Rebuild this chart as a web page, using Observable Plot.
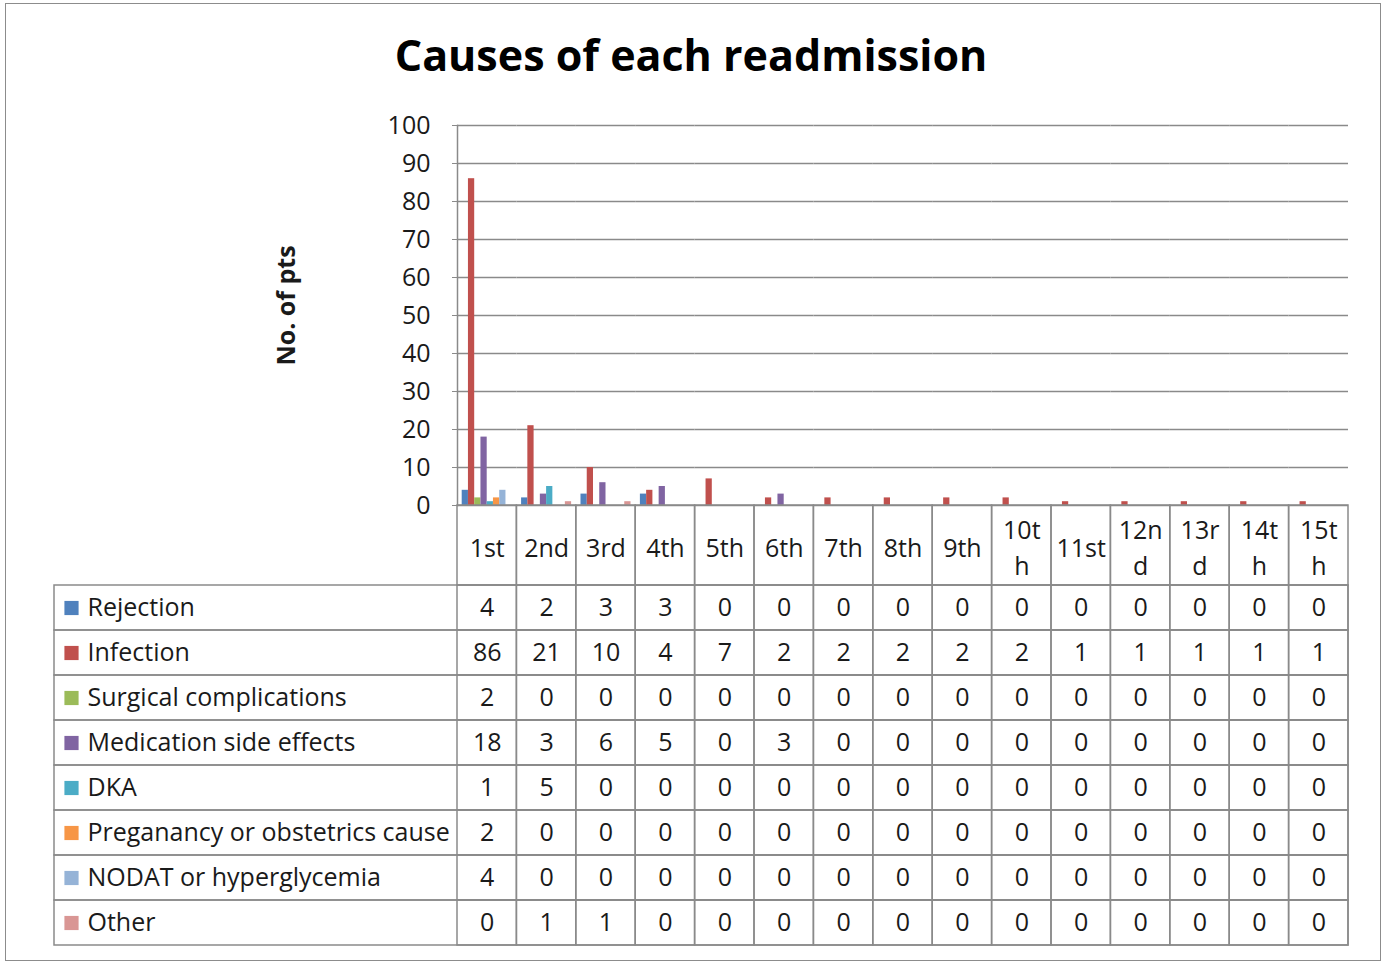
<!DOCTYPE html>
<html>
<head>
<meta charset="utf-8">
<script src="https://cdn.jsdelivr.net/npm/d3@7"></script>
<script src="https://cdn.jsdelivr.net/npm/@observablehq/plot@0.6"></script>
<style>
  html, body { margin: 0; padding: 0; background: #fff; }
  #chart { position: relative; width: 1382px; height: 963px; font-family: "Open Sans", "DejaVu Sans", sans-serif; }
  #border { position: absolute; left: 5px; top: 3px; width: 1374px; height: 956px; border: 1px solid #8c8c8c; }
  #title { position: absolute; left: 0; width: 1382px; top: 25px; text-align: center; font-weight: bold; font-size: 43px; color: #000; }
  .layer { position: absolute; left: 0; }
  .layer svg { overflow: visible; }
  [aria-label="y-axis label"] { font-weight: bold; translate: 0 -10px; }
</style>
</head>
<body>
<div id="chart">
  <div id="border"></div>
  <div id="title">Causes of each readmission</div>
  <div id="bars" class="layer" style="top:105px"></div>
  <div id="header" class="layer" style="top:505px"></div>
  <div id="body" class="layer" style="top:585px"></div>
</div>
<script>
const categories = ["1st","2nd","3rd","4th","5th","6th","7th","8th","9th","10th","11st","12nd","13rd","14th","15th"];
const headerLabels = ["1st","2nd","3rd","4th","5th","6th","7th","8th","9th","10t\nh","11st","12n\nd","13r\nd","14t\nh","15t\nh"];
const series = ["Rejection","Infection","Surgical complications","Medication side effects","DKA","Preganancy or obstetrics cause","NODAT or hyperglycemia","Other"];
const rejection  = [4,2,3,3,0,0,0,0,0,0,0,0,0,0,0];
const infection  = [86,21,10,4,7,2,2,2,2,2,1,1,1,1,1];
const surgical   = [2,0,0,0,0,0,0,0,0,0,0,0,0,0,0];
const medication = [18,3,6,5,0,3,0,0,0,0,0,0,0,0,0];
const dka        = [1,5,0,0,0,0,0,0,0,0,0,0,0,0,0];
const pregnancy  = [2,0,0,0,0,0,0,0,0,0,0,0,0,0,0];
const nodat      = [4,0,0,0,0,0,0,0,0,0,0,0,0,0,0];
const other      = [0,1,1,0,0,0,0,0,0,0,0,0,0,0,0];
const colors = ["#4F81BD","#C0504D","#9BBB59","#8064A2","#4BACC6","#F79646","#95B3D7","#D99694"];
const yTicks = [0,10,20,30,40,50,60,70,80,90,100];

const values = [rejection, infection, surgical, medication, dka, pregnancy, nodat, other];
const data = [];
series.forEach((s, i) => categories.forEach((c, j) => data.push({series: s, category: c, value: values[i][j]})));
const headerRows = categories.map((c, j) => ({category: c, label: headerLabels[j]}));

const gray = "#8a8a8a";
const ink = "#1a1a1a";
const font = "'Open Sans', 'DejaVu Sans', sans-serif";
const W = 1382, ML = 457, MR = 34;
const FS = 25;

const bars = Plot.plot({
  width: W, height: 400, marginTop: 20, marginBottom: 0, marginLeft: ML, marginRight: MR,
  style: {fontFamily: font, fontSize: FS + "px", color: ink, background: "transparent"},
  fx: {domain: categories, padding: 0, round: false, axis: null},
  x: {domain: series, paddingInner: 0, paddingOuter: 0.75, round: false, axis: null},
  y: {domain: [0, 100]},
  color: {domain: series, range: colors},
  marks: [
    Plot.gridY(yTicks, {stroke: gray, strokeOpacity: 1, strokeWidth: 1.5}),
    Plot.axisY(yTicks, {tickSize: 5, tickPadding: 22, fontSize: 25, stroke: gray, fill: ink,
      label: "No. of pts", labelAnchor: "center", labelOffset: 180, labelArrow: "none"}),
    Plot.frame({anchor: "left", facetAnchor: "left", stroke: gray, strokeWidth: 1.5}),
    Plot.barY(data, {fx: "category", x: "series", y: "value", fill: "series"})
  ]
});
document.getElementById("bars").append(bars);

const header = Plot.plot({
  width: W, height: 80, margin: 0, marginLeft: ML, marginRight: MR,
  style: {fontFamily: font, fontSize: FS + "px", color: ink, background: "transparent"},
  x: {domain: categories, padding: 0, round: false, axis: null},
  marks: [
    Plot.cell(headerRows, {x: "category", stroke: gray, strokeWidth: 1.5, fill: "none"}),
    Plot.text(headerRows, {x: "category", text: "label", fontSize: FS, lineHeight: 1.45, fill: ink})
  ]
});
document.getElementById("header").append(header);

const body = Plot.plot({
  width: W, height: 360, margin: 0, marginLeft: ML, marginRight: MR,
  style: {fontFamily: font, fontSize: FS + "px", color: ink, background: "transparent"},
  x: {domain: categories, padding: 0, round: false, axis: null},
  y: {domain: series, padding: 0, round: false, axis: null},
  color: {domain: series, range: colors},
  marks: [
    Plot.cell(series, {y: d => d, insetLeft: -403, stroke: gray, strokeWidth: 1.5, fill: "none"}),
    Plot.cell(data, {x: "category", y: "series", stroke: gray, strokeWidth: 1.5, fill: "none"}),
    Plot.text(data, {x: "category", y: "series", text: "value", fontSize: FS, fill: ink}),
    Plot.dot(series, {y: d => d, frameAnchor: "left", dx: -386, symbol: "square", r: 8, fill: d => d}),
    Plot.text(series, {y: d => d, frameAnchor: "left", dx: -370, textAnchor: "start", text: d => d, fontSize: FS, fill: ink})
  ]
});
document.getElementById("body").append(body);
</script>
</body>
</html>
